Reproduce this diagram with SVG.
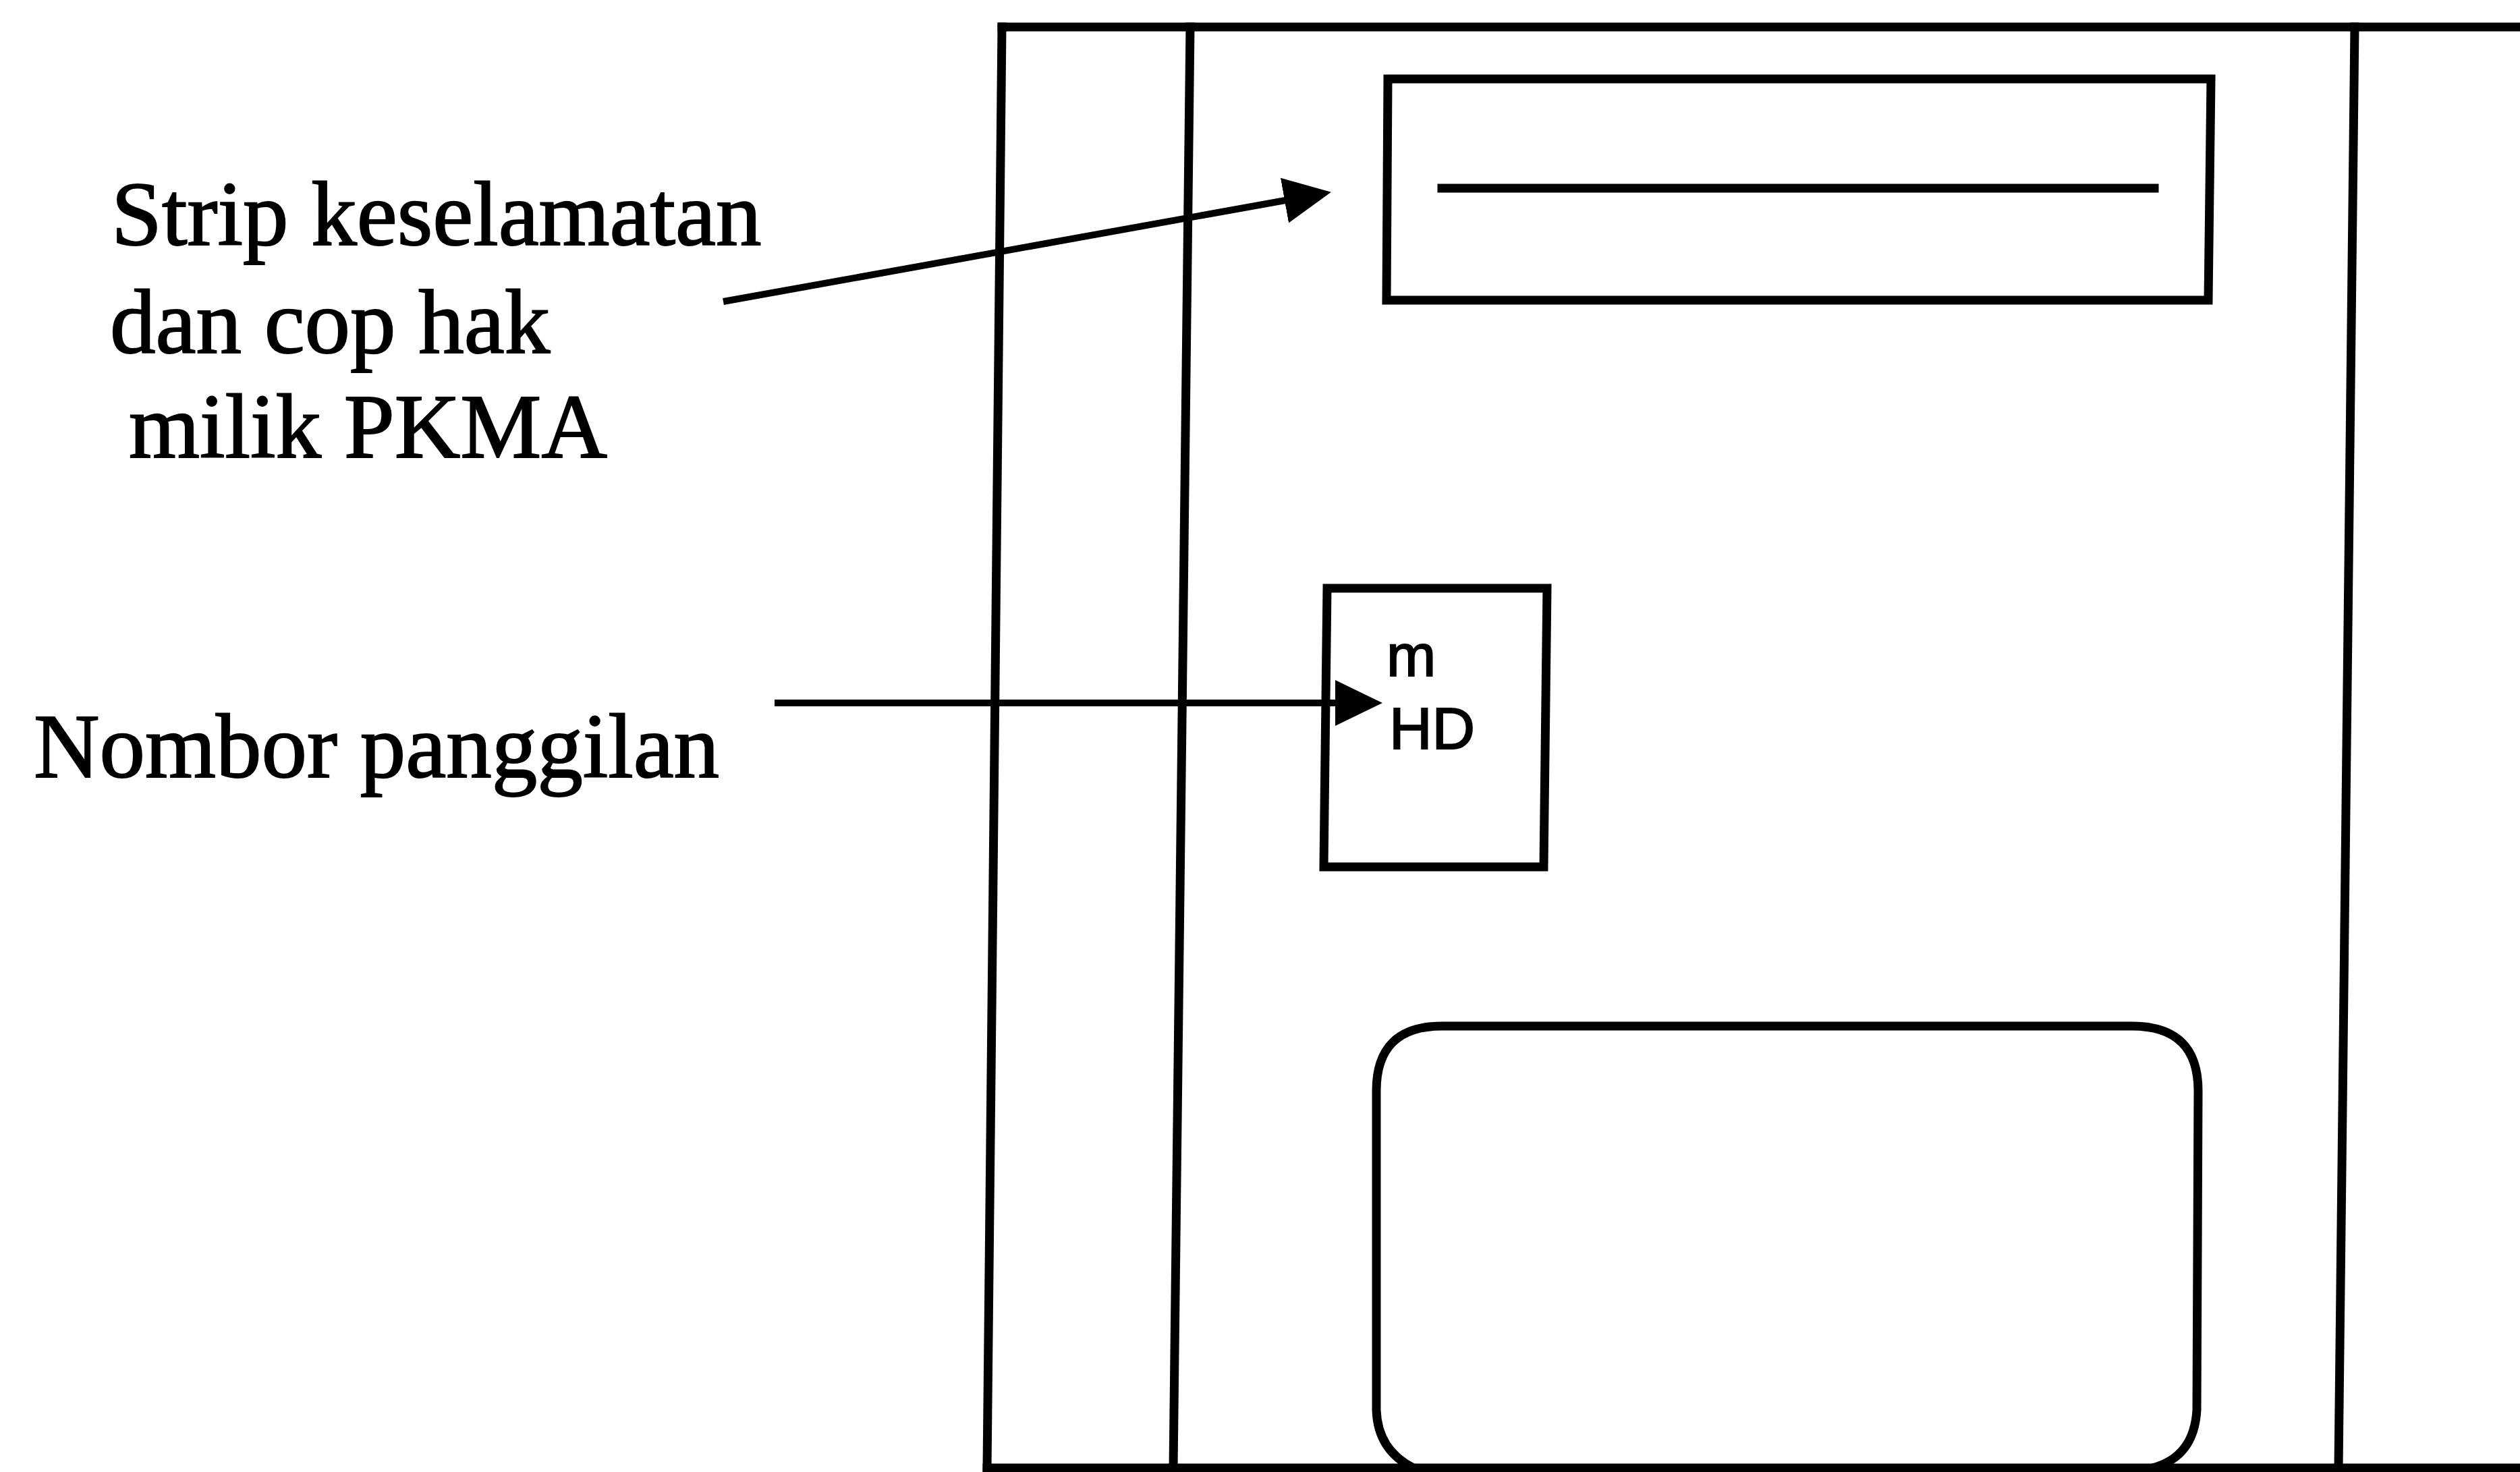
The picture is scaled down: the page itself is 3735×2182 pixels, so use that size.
<svg xmlns="http://www.w3.org/2000/svg" width="3735" height="2182" viewBox="0 0 3735 2182">
<style>
.ln{stroke:#000;stroke-width:13;fill:none;stroke-linecap:square}
.bx{stroke:#000;stroke-width:13;fill:none;stroke-linejoin:miter}
.lbl{font-family:"Liberation Serif","Times New Roman",serif;font-size:135px;fill:#000;stroke:#000;stroke-width:2}
.cn{font-family:"Liberation Sans",Arial,sans-serif;font-size:88px;fill:#000;stroke:#000;stroke-width:2}
.ar{stroke:#000;stroke-width:10;fill:none}
</style>
<defs>
<marker id="ah" markerUnits="userSpaceOnUse" markerWidth="70" markerHeight="70" viewBox="0 0 68 66" refX="1" refY="33" orient="auto">
<path d="M0,0 L68,33 L0,66 z" fill="#000"/>
</marker>
</defs>
<rect width="3735" height="2182" fill="#fff"/>
<g id="frame">
<line class="ln" x1="1485" y1="40" x2="3735" y2="40"/>
<line class="ln" x1="1463" y1="2176" x2="3735" y2="2176"/>
<line class="ln" x1="1485" y1="40" x2="1463" y2="2176"/>
<line class="ln" x1="1764" y1="40" x2="1739" y2="2176"/>
<line class="ln" x1="3490" y1="40" x2="3466" y2="2176"/>
</g>
<g id="strip">
<polygon class="bx" points="2057,117 3277,117 3273,445 2055,445"/>
<line class="ln" x1="2137" y1="279" x2="3193" y2="279"/>
</g>
<g id="callbox">
<polygon class="bx" points="1967,872 2293,872 2288,1285 1962,1285"/>
<text class="cn" x="2055" y="1002">m</text>
<text class="cn" x="2059" y="1110">HD</text>
</g>
<g id="window">
<path class="bx" d="M2095,2176 Q2042,2150 2040,2090 L2040,1617 Q2040,1521 2137,1521 L3160,1521 Q3258,1521 3258,1617 L3256,2090 Q3252,2160 3190,2176"/>
</g>
<g id="label-strip">
<text class="lbl" x="165" y="363">Strip keselamatan</text>
<text class="lbl" x="163" y="523">dan cop hak</text>
<text class="lbl" x="191" y="678">milik PKMA</text>
</g>
<g id="label-nombor">
<text class="lbl" x="50" y="1152">Nombor panggilan</text>
</g>
<g id="connectors">
<line class="ar" x1="1072" y1="447" x2="1905" y2="297" marker-end="url(#ah)"/>
<line class="ar" x1="1148" y1="1042" x2="1980" y2="1042" marker-end="url(#ah)"/>
</g>
</svg>
